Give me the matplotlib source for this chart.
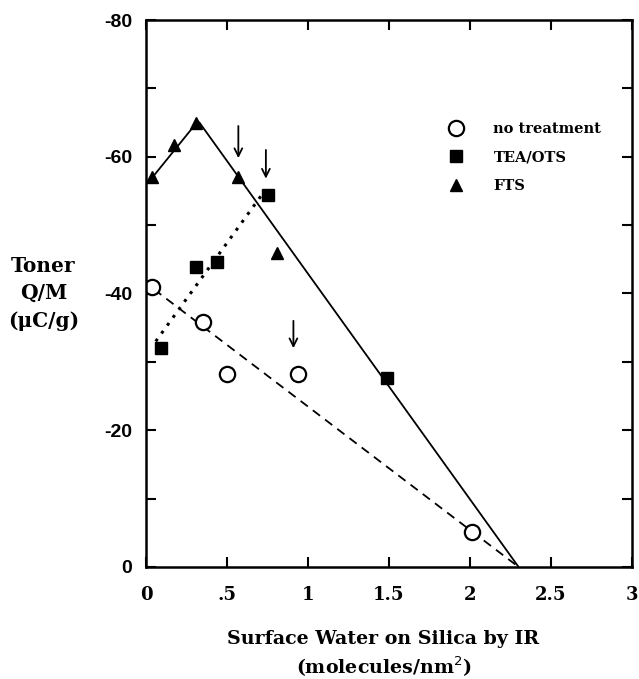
import numpy as np
import matplotlib
matplotlib.use("Agg")
import matplotlib.pyplot as plt
from matplotlib.ticker import MultipleLocator, FixedLocator


# data
water_none = [0.04, 0.35, 0.50, 0.94, 2.01]
qm_none = [-41.0, -35.8, -28.2, -28.2, -5.1]
water_tea = [0.09, 0.31, 0.44, 0.75, 1.49]
qm_tea = [-32.0, -43.9, -44.6, -54.4, -27.6]
water_fts = [0.04, 0.17, 0.31, 0.57, 0.81]
qm_fts = [-57.0, -61.7, -64.9, -57.0, -45.9]

# fitted lines
dash_x, dash_y = [0.05, 2.30], [-40.6, 0.0]
dot_x, dot_y = [0.06, 0.72], [-33.0, -54.6]
rise_x, rise_y = [0.04, 0.31], [-57.0, -64.9]
fall_x, fall_y = [0.33, 2.30], [-65.0, 0.0]

# arrows marking points
arrow_x = [0.57, 0.74, 0.91]
arrow_top = [-64.5, -61.0, -36.0]
arrow_tip = [-59.8, -56.8, -32.0]

xticks = [0, 0.5, 1, 1.5, 2, 2.5, 3]
xticklabels = ["0", ".5", "1", "1.5", "2", "2.5", "3"]
yticks = [0, -20, -40, -60, -80]
yticklabels = ["0", "-20", "-40", "-60", "-80"]

serif = "DejaVu Serif"
sans = "Liberation Sans"

fig = plt.figure(figsize=(6.39, 6.79), dpi=100)
ax = fig.add_axes([0.2285, 0.165, 0.7605, 0.8055])

ax.plot(dash_x, dash_y, ls=(0, (5, 3.5)), c='k', lw=1.3)
ax.plot(dot_x, dot_y, ls=(0, (1, 2.2)), c='k', lw=2.2)
ax.plot(rise_x, rise_y, ls='-', c='k', lw=1.3)
ax.plot(fall_x, fall_y, ls='-', c='k', lw=1.3)

ax.plot(water_none, qm_none, 'o', ms=11, mfc='white', mec='k', mew=1.6,
        ls='none', label='no treatment')
ax.plot(water_tea, qm_tea, 's', ms=8.5, c='k', ls='none', label='TEA/OTS')
ax.plot(water_fts, qm_fts, '^', ms=9, c='k', ls='none', label='FTS')

for xa, yt, yb in zip(arrow_x, arrow_top, arrow_tip):
    ax.annotate("", xy=(xa, yb), xytext=(xa, yt),
                arrowprops=dict(arrowstyle='->', color='k', lw=1.3,
                                mutation_scale=14, shrinkA=0, shrinkB=0))

ax.set_xlim(0, 3)
ax.set_ylim(0, -80)

ax.xaxis.set_major_locator(FixedLocator(xticks))
ax.set_xticklabels(xticklabels, fontfamily=serif, fontweight='bold',
                   fontsize=13)
ax.yaxis.set_major_locator(FixedLocator(yticks))
ax.yaxis.set_minor_locator(MultipleLocator(10))
ax.set_yticklabels(yticklabels, fontfamily=sans, fontweight='bold',
                   fontsize=14)

ax.tick_params(which='both', direction='in', top=True, right=True,
               length=7, width=1.5)
ax.tick_params(axis='x', pad=14)
ax.tick_params(axis='y', pad=10)
for s in ax.spines.values():
    s.set_linewidth(1.8)

fig.text(0.068, 0.568, "Toner\nQ/M\n(\u03bcC/g)", ha='center', va='center',
         fontfamily=serif, fontweight='bold', fontsize=14.5, linespacing=1.45)
fig.text(0.600, 0.036, "Surface Water on Silica by IR\n(molecules/nm$^2$)",
         ha='center', va='center', fontfamily=serif, fontweight='bold',
         fontsize=13.7, linespacing=1.3)

leg = ax.legend(loc='upper left', bbox_to_anchor=(0.595, 0.838), frameon=False,
                prop={'family': serif, 'weight': 'bold', 'size': 10.5},
                handlelength=1.0, handletextpad=2.1, labelspacing=1.0,
                numpoints=1)

fig.savefig("out.png", dpi=100)
